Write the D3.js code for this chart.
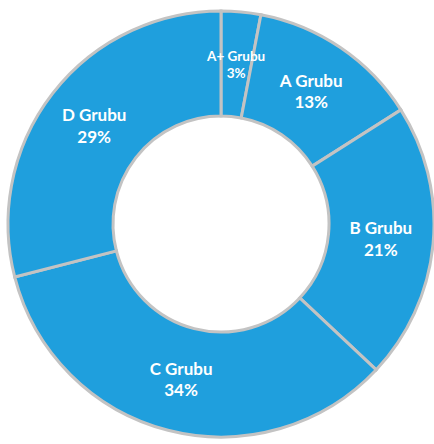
<!DOCTYPE html>
<html>
<head>
<meta charset="utf-8">
<script src="https://cdn.jsdelivr.net/npm/d3@7/dist/d3.min.js"></script>
<style>
  html, body { margin: 0; padding: 0; background: #fff; }
  svg { display: block; }
</style>
</head>
<body>
<svg id="chart" width="434" height="444"></svg>
<script>
// Group shares (percent), clockwise from 12 o'clock
const groups = ["A+ Grubu", "A Grubu", "B Grubu", "C Grubu", "D Grubu"];
const shares = [3, 13, 21, 34, 29];
const labelSizes = [13.5, 17, 17, 17, 17];

const width = 434, height = 444;
const cx = 221, cy = 224;
const outerR = 213, innerR = 108;

const svg = d3.select("#chart");
const g = svg.append("g").attr("transform", `translate(${cx},${cy})`);

const data = groups.map((name, i) => ({ name, value: shares[i], size: labelSizes[i] }));

const pie = d3.pie().value(d => d.value).sort(null);
const arc = d3.arc().innerRadius(innerR).outerRadius(outerR);

const arcs = pie(data);

g.selectAll("path.slice")
  .data(arcs)
  .join("path")
  .attr("class", "slice")
  .attr("d", arc)
  .attr("fill", "#1f9fdd")
  .attr("stroke", "#c3c3c3")
  .attr("stroke-width", 3)
  .attr("stroke-linejoin", "miter");

// Two-line label block (name, percent) centred on each slice centroid
const capH = s => 0.72 * s;
const lineH = s => 1.27 * s;

const labels = g.selectAll("text.lbl")
  .data(arcs)
  .join("text")
  .attr("class", "lbl")
  .attr("transform", d => `translate(${arc.centroid(d)})`)
  .attr("text-anchor", "middle")
  .attr("fill", "#ffffff")
  .attr("font-family", "Lato, 'Open Sans', sans-serif")
  .attr("font-weight", "bold")
  .attr("font-size", d => d.data.size);

labels.append("tspan")
  .attr("x", 0)
  .attr("y", d => capH(d.data.size) - (lineH(d.data.size) + capH(d.data.size)) / 2)
  .text(d => d.data.name);

labels.append("tspan")
  .attr("x", 0)
  .attr("dy", d => lineH(d.data.size))
  .text(d => d.data.value + "%");
</script>
</body>
</html>
